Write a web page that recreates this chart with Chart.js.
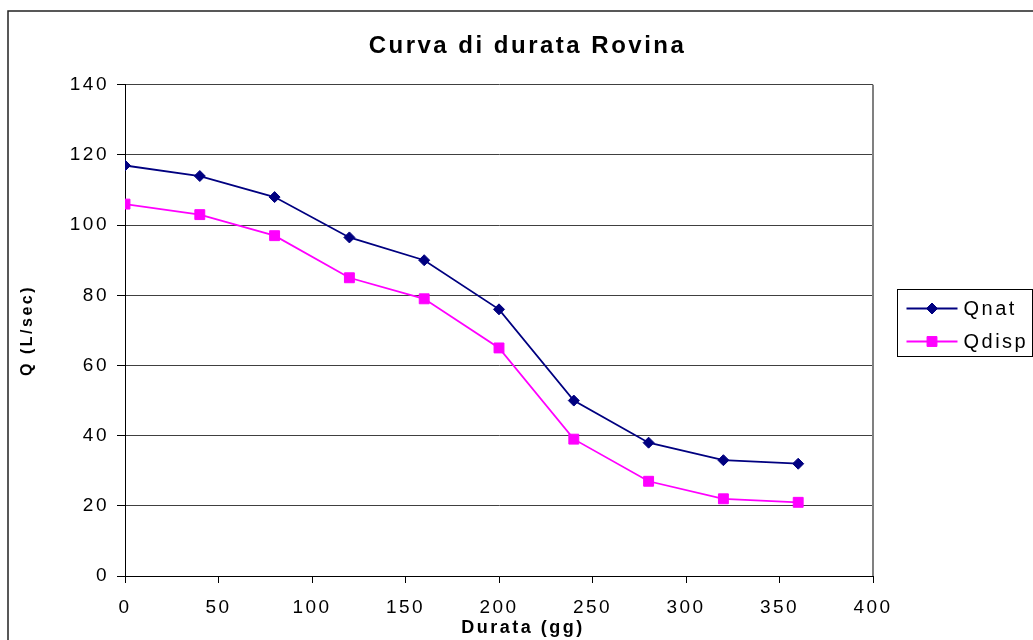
<!DOCTYPE html>
<html>
<head>
<meta charset="utf-8">
<script src="https://cdn.jsdelivr.net/npm/chart.js@4"></script>
<style>
  html, body { margin:0; padding:0; background:#fff; overflow:hidden; }
  #c { display:block; }
</style>
</head>
<body>
<canvas id="c" width="1033" height="640"></canvas>
<script>
const durata = [0, 40, 80, 120, 160, 200, 240, 280, 320, 360];
const qnat   = [117, 114, 108, 96.5, 90, 76, 50, 38, 33, 32];
const qdisp  = [106, 103, 97, 85, 79, 65, 39, 27, 22, 21];
const seriesNames = ['Qnat', 'Qdisp'];
const xTitle = 'Durata (gg)';

const FONT = "'Liberation Sans', Arial, sans-serif";
const SPACING = '2.5px';   // the reference text is rendered wide-spaced

Chart.defaults.font.family = FONT;
Chart.defaults.color = '#000';

// letter spacing is canvas state, it gets wiped when the canvas is sized
const spacing = {
  id: 'spacing',
  beforeLayout: c => { c.ctx.letterSpacing = SPACING; },
  beforeDraw: c => { c.ctx.letterSpacing = SPACING; }
};

// outer chart frame, grey plot border on the right, x title (centered off the plot like excel does)
const frame = {
  id: 'frame',
  beforeDraw(c) {
    const ctx = c.ctx;
    ctx.save();
    ctx.strokeStyle = '#222'; ctx.lineWidth = 1.5;
    ctx.beginPath(); ctx.moveTo(8, 640); ctx.lineTo(8, 11); ctx.lineTo(1033, 11); ctx.stroke();
    ctx.restore();
  },
  afterDatasetsDraw(c) {
    const {ctx, chartArea:a} = c;
    ctx.save();
    ctx.strokeStyle = '#808080'; ctx.lineWidth = 2;
    ctx.beginPath(); ctx.moveTo(a.right, a.top); ctx.lineTo(a.right, a.bottom); ctx.stroke();
    ctx.letterSpacing = SPACING;
    ctx.fillStyle = '#000';
    ctx.font = `bold 18px ${FONT}`;
    ctx.textAlign = 'center'; ctx.textBaseline = 'middle';
    ctx.fillText(xTitle, 523, 628);
    ctx.restore();
  }
};

// excel style legend: line + marker inside a black box
const boxLegend = {
  id: 'boxLegend',
  afterDraw(c) {
    const ctx = c.ctx;
    const x0 = c.chartArea.right + 24.5, y0 = 289.5, w = 135, h = 67;
    ctx.save();
    ctx.letterSpacing = SPACING;
    ctx.strokeStyle = '#000'; ctx.lineWidth = 1;
    ctx.strokeRect(x0, y0, w, h);
    c.data.datasets.forEach((ds, i) => {
      const y = y0 + 19 + i * 33;
      ctx.strokeStyle = ds.borderColor; ctx.lineWidth = ds.borderWidth;
      ctx.beginPath(); ctx.moveTo(x0 + 9, y); ctx.lineTo(x0 + 60, y); ctx.stroke();
      ctx.fillStyle = ds.pointBackgroundColor; ctx.strokeStyle = ds.pointBorderColor; ctx.lineWidth = 1;
      Chart.helpers.drawPoint(ctx, { pointStyle: ds.pointStyle, radius: ds.pointRadius, rotation: 0, borderWidth: 1 }, x0 + 34.5, y);
      ctx.fillStyle = '#000';
      ctx.font = `20px ${FONT}`;
      ctx.textBaseline = 'middle'; ctx.textAlign = 'left';
      ctx.fillText(ds.label, x0 + 66, y + 1);
    });
    ctx.restore();
  }
};

new Chart(document.getElementById('c'), {
  type: 'line',
  data: {
    datasets: [
      { label: seriesNames[0], data: durata.map((d, i) => ({ x: d, y: qnat[i] })),
        borderColor: '#000080', borderWidth: 1.8, tension: 0,
        pointStyle: 'rectRot', pointRadius: 5.5, pointBackgroundColor: '#000080', pointBorderColor: '#000080', pointBorderWidth: 1 },
      { label: seriesNames[1], data: durata.map((d, i) => ({ x: d, y: qdisp[i] })),
        borderColor: '#FF00FF', borderWidth: 1.8, tension: 0,
        pointStyle: 'rect', pointRadius: 7, pointBackgroundColor: '#FF00FF', pointBorderColor: '#FF00FF', pointBorderWidth: 1 }
    ]
  },
  options: {
    responsive: false, animation: false, devicePixelRatio: 1,
    layout: { padding: { left: 8, right: -14, top: 0, bottom: 0 } },
    plugins: {
      legend: { display: false }, tooltip: { enabled: false },
      title: { display: true, text: 'Curva di durata Rovina', font: { size: 24, weight: 'bold' },
        color: '#000', padding: { top: 32, bottom: 24 } }
    },
    scales: {
      x: {
        type: 'linear', min: 0, max: 400,
        ticks: { stepSize: 50, font: { size: 19 }, color: '#000', padding: 13, maxRotation: 0 },
        grid: { drawOnChartArea: false, tickLength: 7, color: '#000' },
        border: { color: '#000', width: 1 },
        afterFit: s => { s.height = 64; }
      },
      y: {
        min: 0, max: 140,
        ticks: { stepSize: 20, font: { size: 19 }, color: '#000', padding: 8 },
        grid: { color: '#404040', lineWidth: 1, tickLength: 8, tickColor: '#000' },
        border: { color: '#000', width: 1 },
        title: { display: true, text: 'Q (L/sec)', font: { size: 16, weight: 'bold' }, color: '#000', padding: { top: 10, bottom: 0 } },
        afterFit: s => { s.width = 117; }
      },
      // empty right-hand axis: keeps room for the legend box
      yr: {
        position: 'right', min: 0, max: 1,
        ticks: { display: false }, grid: { display: false }, border: { display: false },
        afterFit: s => { s.width = 174; }
      }
    }
  },
  plugins: [spacing, frame, boxLegend]
});
</script>
</body>
</html>
